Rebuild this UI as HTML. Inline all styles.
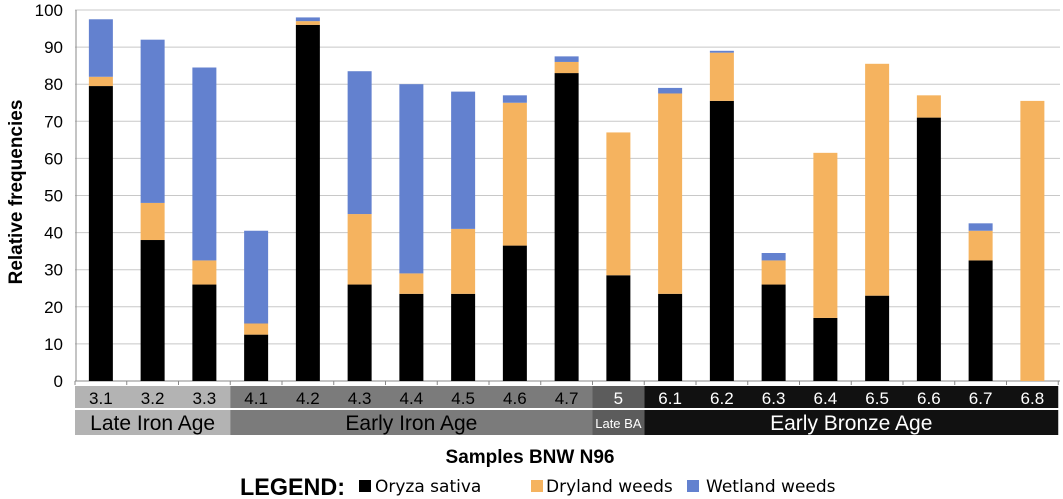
<!DOCTYPE html>
<html><head><meta charset="utf-8"><style>
body{margin:0;background:#fff;font-family:"Liberation Sans",sans-serif}
svg{display:block}
</style></head><body>
<svg width="1063" height="499" xmlns="http://www.w3.org/2000/svg" id="chart">
<g id="grid"></g><g id="bars"></g><g id="axis"></g>
<text x="22" y="192" transform="rotate(-90 22 192)" text-anchor="middle" font-size="19" font-weight="bold">Relative frequencies</text>
<text x="530" y="463" text-anchor="middle" font-size="19" font-weight="bold">Samples BNW N96</text>
<g>
<text x="240" y="495" font-size="24" font-weight="bold" textLength="105" lengthAdjust="spacingAndGlyphs">LEGEND:</text>
<g><rect x="359" y="480" width="12" height="12" fill="#000"/><text x="375" y="492" font-size="17" font-family="DejaVu Sans,sans-serif">Oryza sativa</text></g>
<g><rect x="531" y="480" width="12" height="12" fill="#f5b35f"/><text x="546" y="492" font-size="17" font-family="DejaVu Sans,sans-serif">Dryland weeds</text></g>
<g><rect x="687" y="480" width="12" height="12" fill="#6381cf"/><text x="706" y="492" font-size="17" font-family="DejaVu Sans,sans-serif">Wetland weeds</text></g>
</g>
</svg>
<script>
const categories=["3.1","3.2","3.3","4.1","4.2","4.3","4.4","4.5","4.6","4.7","5","6.1","6.2","6.3","6.4","6.5","6.6","6.7","6.8"];
const oryza=[79.5,38,26,12.5,96,26,23.5,23.5,36.5,83,28.5,23.5,75.5,26,17,23,71,32.5,0];
const dryland=[2.5,10,6.5,3,1,19,5.5,17.5,38.5,3,38.5,54,13,6.5,44.5,62.5,6,8,75.5];
const wetland=[15.5,44,52,25,1,38.5,51,37,2,1.5,0,1.5,0.5,2,0,0,0,2,0];
const yTicks=[0,10,20,30,40,50,60,70,80,90,100];
const periods=["Late Iron Age","Early Iron Age","Late BA","Early Bronze Age"];
const periodSpans=[3,7,1,8];
const NS="http://www.w3.org/2000/svg";
const x0=75,step=51.75,y0=381,py=3.71,bw=24;
const y=v=>y0-v*py;
const xc=i=>x0+step*(i+0.5);
function mk(t,a,p){const e=document.createElementNS(NS,t);for(const k in a)e.setAttribute(k,a[k]);p.appendChild(e);return e;}
const grid=document.getElementById('grid'),bars=document.getElementById('bars'),ax=document.getElementById('axis');
yTicks.forEach(t=>{
 const l=mk('line',{x1:x0,x2:1060,y1:y(t),y2:y(t),stroke:t?'#c8c8c8':'#888','stroke-width':1},grid);
 
 
 const tx=mk('text',{x:63,y:y(t)+6,'text-anchor':'end','font-size':17},ax);tx.textContent=t;
 
 
});
mk('line',{x1:x0+1,x2:x0+1,y1:y(100),y2:y0,stroke:'#888'},ax);
const cols=['#000','#f5b35f','#6381cf'],series=[oryza,dryland,wetland],names=['oryza','dryland','wetland'];
categories.forEach((c,i)=>{
 let acc=0;
 series.forEach((s,k)=>{
  const v=s[i];if(v<=0)return;
  const r=mk('rect',{x:xc(i)-bw/2,y:y(acc+v),width:bw,height:v*py,fill:cols[k]},bars);
  
  
  acc+=v;
 });
});
let ci=0;
const pc=['#b3b3b3','#7b7b7b','#5c5c5c','#111'];
periods.forEach((p,j)=>{
 const xs=x0+step*ci,w=step*periodSpans[j];
 const col=pc[j],tc=j<2?'#000':'#fff';
 mk('rect',{x:xs,y:386,width:w,height:22,fill:col},ax);
 const r2=mk('rect',{x:xs,y:410,width:w,height:25,fill:col},ax);
 
 
 const t=mk('text',{x:xs+w/2,y:j==2?428:430,'text-anchor':'middle','font-size':j==2?13:21,fill:tc},ax);t.textContent=p;
 
 
 for(let k=0;k<periodSpans[j];k++){
  const i=ci+k;
  const tt=mk('text',{x:xc(i),y:404,'text-anchor':'middle','font-size':17,fill:tc},ax);tt.textContent=categories[i];
  
  
 }
 ci+=periodSpans[j];
});
for(let i=0;i<=categories.length;i++)mk('line',{x1:x0+step*i,x2:x0+step*i,y1:y0,y2:y0+4,stroke:'#888'},ax);
</script>
</body></html>
